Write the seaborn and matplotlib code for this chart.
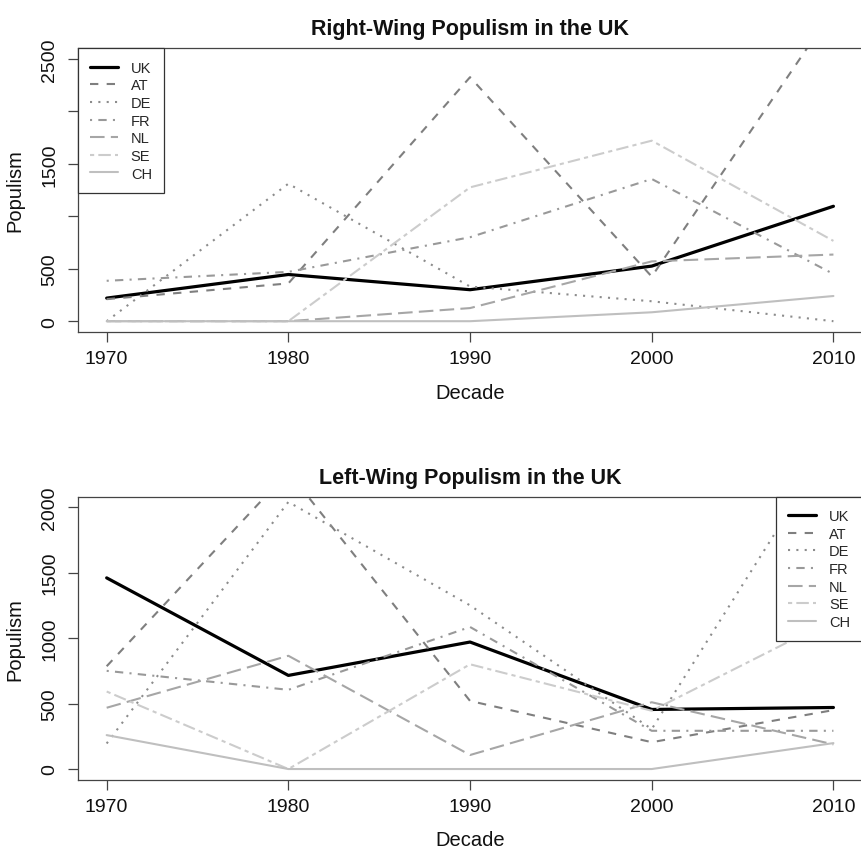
import numpy as np
import pandas as pd
import matplotlib
matplotlib.use("Agg")
import matplotlib.pyplot as plt
from matplotlib.lines import Line2D
import seaborn as sns

# Decades on the x axis and the countries plotted
decades = [1970, 1980, 1990, 2000, 2010]
countries = ["UK", "AT", "DE", "FR", "NL", "SE", "CH"]

# Right-wing populism scores per decade
right_uk = [220, 445, 300, 525, 1095]
right_at = [210, 360, 2325, 425, 2970]
right_de = [0, 1310, 330, 190, 0]
right_fr = [385, 470, 800, 1355, 450]
right_nl = [0, 0, 125, 570, 635]
right_se = [0, 0, 1275, 1720, 765]
right_ch = [0, 0, 0, 85, 240]

# Left-wing populism scores per decade
left_uk = [1460, 715, 970, 455, 470]
left_at = [785, 2270, 520, 205, 450]
left_de = [195, 2040, 1250, 305, 2510]
left_fr = [750, 605, 1085, 292, 292]
left_nl = [468, 865, 107, 510, 188]
left_se = [592, 0, 800, 445, 1145]
left_ch = [259, 0, 0, 0, 198]

right_ticks = [0, 500, 1000, 1500, 2000, 2500]
right_ticklabels = ["0", "500", "", "1500", "", "2500"]
left_ticks = [0, 500, 1000, 1500, 2000]
left_ticklabels = ["0", "500", "1000", "1500", "2000"]

# Grey-scale styling in the manner of base R line types
palette = {"UK": "#000000", "AT": "#7f7f7f", "DE": "#8c8c8c", "FR": "#999999",
           "NL": "#a6a6a6", "SE": "#cccccc", "CH": "#bfbfbf"}
dash_map = {"UK": "", "AT": (4, 4), "DE": (1, 3), "FR": (1, 3, 4, 3),
            "NL": (7, 3), "SE": (2, 2, 6, 2), "CH": ""}
width_map = {"UK": 2.3, "AT": 1.5, "DE": 1.5, "FR": 1.5, "NL": 1.5, "SE": 1.5, "CH": 1.5}


def long_frame(series):
    return pd.DataFrame({
        "decade": np.tile(decades, len(countries)),
        "country": np.repeat(countries, len(decades)),
        "value": np.concatenate([np.asarray(s, dtype=float) for s in series]),
    })


right_df = long_frame([right_uk, right_at, right_de, right_fr, right_nl, right_se, right_ch])
left_df = long_frame([left_uk, left_at, left_de, left_fr, left_nl, left_se, left_ch])

sns.set_theme(style="white")
plt.rcParams["font.family"] = ["Liberation Sans", "DejaVu Sans"]

W, H = 862, 853
fig = plt.figure(figsize=(W / 100, H / 100), dpi=100)
left_px, right_px = 77.6, 862.5
ax_top = fig.add_axes([left_px / W, 1 - 332.7 / H, (right_px - left_px) / W, (332.7 - 49.3) / H])
ax_bot = fig.add_axes([left_px / W, 1 - 780.5 / H, (right_px - left_px) / W, (780.5 - 497.7) / H])

edge = "#444444"


def legend_handles():
    hs = []
    for c in countries:
        d = dash_map[c]
        ls = "-" if d == "" else (0, d)
        hs.append(Line2D([], [], color=palette[c], lw=width_map[c], linestyle=ls))
    return hs


def draw(ax, df, title, ylim, ticks, ticklabels, legend_loc):
    sns.lineplot(data=df, x="decade", y="value", hue="country", style="country",
                 size="country", hue_order=countries, style_order=countries,
                 size_order=countries, palette=palette, dashes=dash_map,
                 sizes=width_map, legend=False, ax=ax)
    ax.set_xlim(1968.4, 2011.6)
    ax.set_ylim(*ylim)
    ax.set_xticks(decades)
    ax.set_xticklabels([str(d) for d in decades])
    ax.set_yticks(ticks)
    ax.set_yticklabels(ticklabels, rotation=90, va="center")
    ax.tick_params(axis="both", direction="out", length=7, width=0.9, color=edge,
                   labelsize=14, labelcolor="#111111", bottom=True, left=True)
    ax.tick_params(axis="x", pad=6)
    ax.tick_params(axis="y", pad=7)
    for s in ax.spines.values():
        s.set_color(edge)
        s.set_linewidth(0.9)
        s.set_visible(True)
    ax.set_xlabel("Decade", fontsize=14.5, color="#111111")
    ax.set_ylabel("Populism", fontsize=14.5, color="#111111")
    ax.xaxis.label.set_va("center")
    ax.yaxis.label.set_va("center")
    ax.xaxis.set_label_coords(0.5, -0.213)
    ax.yaxis.set_label_coords(-0.08, 0.5)
    ax.set_title(title, fontsize=15.5, fontweight="bold", pad=10, color="#111111")
    leg = ax.legend(legend_handles(), countries, loc=legend_loc, frameon=True,
                    fancybox=False, edgecolor="#333333", framealpha=1,
                    borderaxespad=0, fontsize=10.5, handlelength=1.9,
                    handletextpad=0.9, labelspacing=0.25, borderpad=0.85)
    leg.get_frame().set_linewidth(0.9)
    ax.set_facecolor("white")


draw(ax_top, right_df, "Right-Wing Populism in the UK", (-100, 2600),
     right_ticks, right_ticklabels, "upper left")
draw(ax_bot, left_df, "Left-Wing Populism in the UK", (-80, 2080),
     left_ticks, left_ticklabels, "upper right")

fig.savefig("out.png", dpi=100, facecolor="white")
